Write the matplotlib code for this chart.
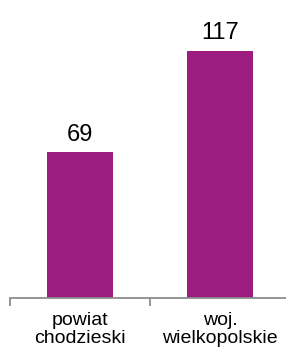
import matplotlib.pyplot as plt

# Data
categories = ['powiat\nchodzieski', 'woj.\nwielkopolskie']
values = [69, 117]

plt.rcParams['font.family'] = ['Liberation Sans', 'DejaVu Sans']

fig = plt.figure(figsize=(2.86, 3.52), dpi=100)
ax = fig.add_axes([10 / 286, 1 - 298 / 352, 280 / 286, 298 / 352])

x = range(len(values))
ax.bar(x, values, width=0.465, color='#9C1C80')

for xi, v in zip(x, values):
    ax.annotate(str(v), (xi, v), xytext=(0, 8.5), textcoords='offset points',
                ha='center', va='baseline', fontsize=17)

ax.set_xlim(-0.5, 1.5)
ax.set_ylim(0, 141.3)

# Category ticks at the boundaries, labels centered under bars
ax.set_xticks([-0.5, 0.5, 1.5])
ax.set_xticklabels([])
ax.set_xticks([0, 1], minor=True)
ax.set_xticklabels(categories, minor=True, fontsize=14, linespacing=1.1)
ax.tick_params(axis='x', which='major', direction='out', length=6, width=1.3, color='#8c8c8c')
ax.tick_params(axis='x', which='minor', length=0, pad=10)

ax.set_yticks([])
for s in ['top', 'right', 'left']:
    ax.spines[s].set_visible(False)
ax.spines['bottom'].set_color('#8c8c8c')
ax.spines['bottom'].set_linewidth(1.3)

plt.savefig('out.png', dpi=100)
plt.close()
